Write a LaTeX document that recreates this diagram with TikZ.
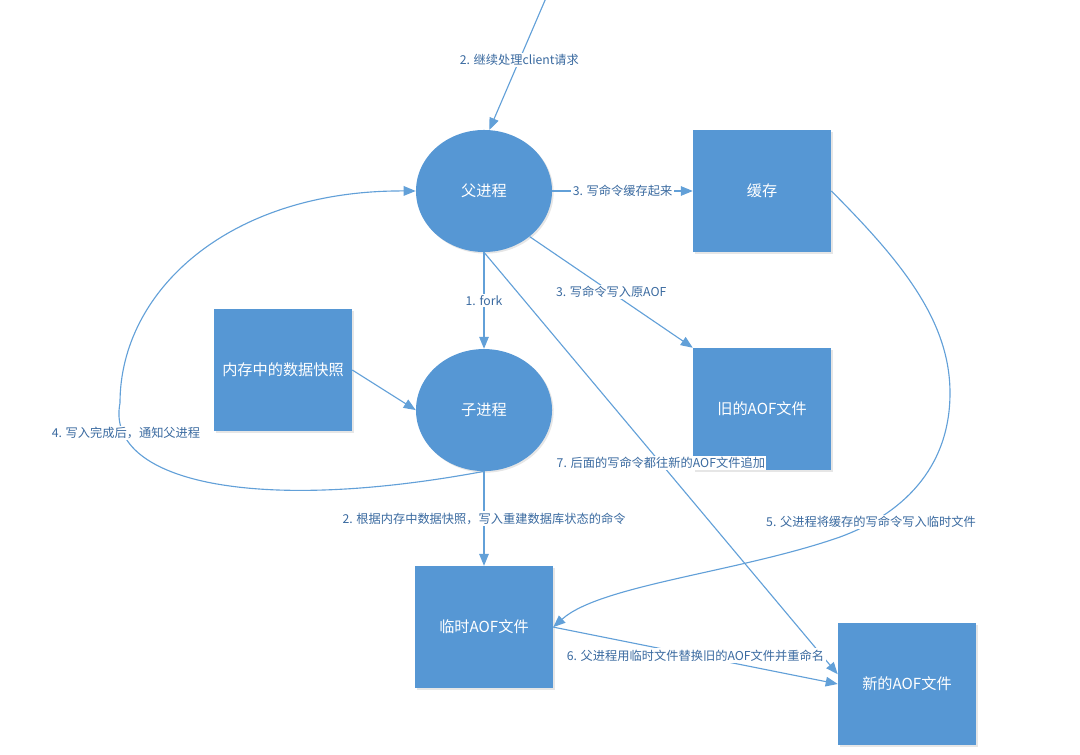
\documentclass[tikz,border=0pt]{standalone}
\usepackage{fontspec}
\setmainfont{Noto Sans CJK SC}
\usepackage{tikz}
\usetikzlibrary{arrows.meta,shapes.geometric,positioning,shadows}
\definecolor{boxblue}{RGB}{86,151,212}
\definecolor{lineblue}{RGB}{98,160,216}
\definecolor{textblue}{RGB}{58,106,160}
\tikzstyle{proc} = [ellipse, minimum width = 3.4cm, minimum height = 3.05cm, inner sep = 0pt, fill = boxblue, text = white, font = \fontsize{10.8}{13}\selectfont, drop shadow = {opacity = .2, shadow xshift = .4mm, shadow yshift = -.4mm}]
\tikzstyle{filebox} = [rectangle, minimum width = 3.45cm, minimum height = 3.05cm, inner sep = 0pt, text centered, fill = boxblue, text = white, font = \fontsize{10.8}{13}\selectfont, drop shadow = {opacity = .2, shadow xshift = .4mm, shadow yshift = -.4mm}]
\tikzstyle{note} = [fill = white, inner sep = 1pt, text = textblue, font = \fontsize{8.7}{10}\selectfont]
\tikzstyle{link} = [draw = lineblue, line width = 0.8pt]

\begin{document}
\begin{tikzpicture}[x = 0.025cm, y = -0.025cm, node distance = 5.45cm, on grid, >={Triangle[length=3mm,width=2.4mm]}]
        \useasboundingbox (0,0) rectangle (1080,755);
        \node (fu) [proc] at (484,191) {父进程};
        \node (cache) [filebox, right = 6.95cm of fu] {缓存};
        \node (zi) [proc, below = 5.475cm of fu] {子进程};
        \node (old) [filebox, below = of cache] {旧的AOF文件};
        \node (snap) [filebox] at (283,370) {内存中的数据快照};
        \node (tmp) [filebox, below = 5.425cm of zi] {临时AOF文件};
        \node (new) [filebox] at (907,684) {新的AOF文件};
        \coordinate (client) at (546,-2);
        \draw [link, ->] (client) -- node[note, pos=.47]{2. 继续处理client请求} (fu.85);
        \draw [link, ->] (fu) -- node[note]{3. 写命令缓存起来} (cache);
        \draw [link, ->] (fu.-45) -- node[note]{3. 写命令写入原AOF} (old.north west);
        \draw [link, ->] (fu) -- node[note]{1. fork} (zi);
        \draw [link, ->] (fu.south) -- node[note]{7. 后面的写命令都往新的AOF文件追加} (new.172);
        \draw [link, ->] (snap.east) -- (zi.west);
        \draw [link, ->] (zi) -- node[note]{2. 根据内存中数据快照，写入重建数据库状态的命令} (tmp);
        \draw [link, ->] (tmp.east) -- node[note]{6. 父进程用临时文件替换旧的AOF文件并重命名} (new.west);
        % 4: child tells parent
        \draw [link, ->] (zi.south) .. controls (250,515) and (105,480) .. (120,403) .. controls (120,290) and (230,190) .. (fu.west);
        \node (n4) [note] at (126,433) {4. 写入完成后，通知父进程};
        % 5: cache flushed into temp file
        \draw [link, ->] (cache.east) .. controls (900,260) and (950,320) .. (950,393) .. controls (950,470) and (900,515) .. (840,537) .. controls (740,572) and (600,585) .. (tmp.east);
        \node (n5) [note] at (871,522) {5. 父进程将缓存的写命令写入临时文件};
\end{tikzpicture}
\end{document}
